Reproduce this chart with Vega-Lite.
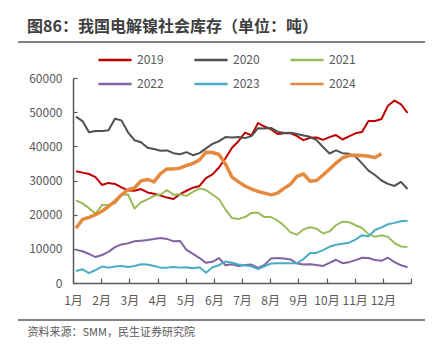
{
  "$schema": "https://vega.github.io/schema/vega-lite/v6.json",
  "autosize": "none",
  "width": 338,
  "height": 205,
  "padding": {"left": 73, "top": 78, "right": 33, "bottom": 76},
  "background": "white",
  "config": {"font": "Noto Sans CJK SC", "view": {"stroke": null}, "axis": {"labelOverlap": false}},
  "title": {"text": "图86：我国电解镍社会库存（单位：吨）", "anchor": "start", "frame": "group", "dx": -46, "fontSize": 16, "fontWeight": "bold", "color": "#404040", "offset": 6},
  "resolve": {"scale": {"x": "independent", "y": "independent"}, "axis": {"x": "independent", "y": "independent"}},
  "data": {"values": [
    {"w":0,"2019":32700,"2020":48700,"2021":24200,"2022":9700,"2023":3500,"2024":16000},
    {"w":1,"2019":32300,"2020":47400,"2021":23300,"2022":9300,"2023":4000,"2024":18600},
    {"w":2,"2019":31900,"2020":44100,"2021":21900,"2022":8500,"2023":2900,"2024":19200},
    {"w":3,"2019":31000,"2020":44500,"2021":20300,"2022":7600,"2023":3800,"2024":20000},
    {"w":4,"2019":28700,"2020":44500,"2021":22800,"2022":8200,"2023":4800,"2024":21000},
    {"w":5,"2019":29300,"2020":44700,"2021":22900,"2022":9100,"2023":4500,"2024":22400},
    {"w":6,"2019":29000,"2020":48100,"2021":23300,"2022":10500,"2023":4800,"2024":23900},
    {"w":7,"2019":28000,"2020":47600,"2021":25800,"2022":11300,"2023":5000,"2024":25800},
    {"w":8,"2019":27100,"2020":44100,"2021":25900,"2022":11600,"2023":4700,"2024":27300},
    {"w":9,"2019":27000,"2020":41800,"2021":21800,"2022":12200,"2023":5000,"2024":27800},
    {"w":10,"2019":27500,"2020":41200,"2021":23600,"2022":12400,"2023":5500,"2024":29900},
    {"w":11,"2019":26500,"2020":39600,"2021":24500,"2022":12600,"2023":5400,"2024":30300},
    {"w":12,"2019":26100,"2020":39200,"2021":25500,"2022":12900,"2023":5000,"2024":29600},
    {"w":13,"2019":25600,"2020":38700,"2021":25900,"2022":13200,"2023":4500,"2024":32000},
    {"w":14,"2019":25000,"2020":38800,"2021":27200,"2022":12900,"2023":4500,"2024":33400},
    {"w":15,"2019":24600,"2020":38000,"2021":25800,"2022":12200,"2023":4700,"2024":33400},
    {"w":16,"2019":26000,"2020":37700,"2021":26000,"2022":12300,"2023":4500,"2024":33600},
    {"w":17,"2019":27000,"2020":38300,"2021":25500,"2022":9700,"2023":4600,"2024":34400},
    {"w":18,"2019":27900,"2020":37400,"2021":26700,"2022":8500,"2023":4300,"2024":35000},
    {"w":19,"2019":28400,"2020":38000,"2021":27700,"2022":7300,"2023":4600,"2024":36000},
    {"w":20,"2019":30700,"2020":39400,"2021":27200,"2022":5900,"2023":3000,"2024":38300},
    {"w":21,"2019":31800,"2020":40700,"2021":25900,"2022":6200,"2023":4600,"2024":38200},
    {"w":22,"2019":33800,"2020":41500,"2021":24500,"2022":7300,"2023":5200,"2024":37600},
    {"w":23,"2019":36500,"2020":42700,"2021":21500,"2022":5200,"2023":6300,"2024":34800},
    {"w":24,"2019":39600,"2020":42600,"2021":19000,"2022":5500,"2023":5900,"2024":31000},
    {"w":25,"2019":41500,"2020":42700,"2021":18700,"2022":5000,"2023":5400,"2024":29600},
    {"w":26,"2019":44000,"2020":42400,"2021":19300,"2022":5300,"2023":5100,"2024":28400},
    {"w":27,"2019":43200,"2020":43000,"2021":20500,"2022":5400,"2023":4900,"2024":27500},
    {"w":28,"2019":46800,"2020":45300,"2021":20600,"2022":4400,"2023":4100,"2024":26800},
    {"w":29,"2019":45800,"2020":45200,"2021":19300,"2022":5300,"2023":4900,"2024":26300},
    {"w":30,"2019":45000,"2020":45400,"2021":19300,"2022":7200,"2023":5700,"2024":25800},
    {"w":31,"2019":43600,"2020":44300,"2021":18300,"2022":7300,"2023":5800,"2024":26300},
    {"w":32,"2019":43800,"2020":43900,"2021":16800,"2022":7200,"2023":5800,"2024":27700},
    {"w":33,"2019":43900,"2020":44000,"2021":14800,"2022":6900,"2023":5800,"2024":28900},
    {"w":34,"2019":43000,"2020":43600,"2021":14100,"2022":5700,"2023":5800,"2024":31200},
    {"w":35,"2019":41800,"2020":43200,"2021":15700,"2022":5400,"2023":7000,"2024":31900},
    {"w":36,"2019":42500,"2020":42800,"2021":16300,"2022":5500,"2023":8800,"2024":29800},
    {"w":37,"2019":42600,"2020":41800,"2021":15900,"2022":5300,"2023":8800,"2024":30000},
    {"w":38,"2019":41900,"2020":39800,"2021":14500,"2022":5000,"2023":9600,"2024":31600},
    {"w":39,"2019":42700,"2020":37900,"2021":15100,"2022":5900,"2023":10600,"2024":33300},
    {"w":40,"2019":43300,"2020":38800,"2021":16900,"2022":6800,"2023":11200,"2024":35100},
    {"w":41,"2019":42000,"2020":38000,"2021":18000,"2022":5800,"2023":11500,"2024":36600},
    {"w":42,"2019":42900,"2020":37800,"2021":17800,"2022":6100,"2023":11800,"2024":37300},
    {"w":43,"2019":43800,"2020":37000,"2021":16900,"2022":6700,"2023":12700,"2024":37400},
    {"w":44,"2019":44200,"2020":35000,"2021":16100,"2022":7400,"2023":14000,"2024":37300},
    {"w":45,"2019":47400,"2020":32900,"2021":14300,"2022":7300,"2023":13700,"2024":37100},
    {"w":46,"2019":47400,"2020":31600,"2021":13500,"2022":6700,"2023":15500,"2024":36700},
    {"w":47,"2019":48000,"2020":30000,"2021":14000,"2022":6500,"2023":16300,"2024":37800},
    {"w":48,"2019":51900,"2020":29000,"2021":13500,"2022":7400,"2023":17200},
    {"w":49,"2019":53400,"2020":28400,"2021":11700,"2022":6100,"2023":17600},
    {"w":50,"2019":52300,"2020":29600,"2021":10700,"2022":5200,"2023":18100},
    {"w":51,"2019":49800,"2020":27500,"2021":10500,"2022":4600,"2023":18200}
  ]},
  "transform": [{"fold": ["2019", "2020", "2021", "2022", "2023", "2024"], "as": ["year", "value"]}],
  "layer": [
    {
      "mark": {"type": "line", "strokeJoin": "round"},
      "encoding": {
        "x": {"field": "w", "type": "quantitative",
          "scale": {"domain": [-0.46, 51.54], "nice": false, "zero": false},
          "axis": {"values": [-0.46, 3.873, 8.207, 12.54, 16.873, 21.207, 25.54, 29.873, 34.207, 38.54, 42.873, 47.207, 51.54],
            "labelExpr": "datum.value > 51 ? '' : (round((datum.value + 0.46) / 4.3333) + 1) + '月'",
            "labelOverlap": false, "labelFlush": false,
            "grid": false, "tickSize": -5, "labelPadding": 17, "labelFontSize": 12, "labelColor": "#595959",
            "domainColor": "#595959", "domainWidth": 1.5, "tickColor": "#595959", "tickWidth": 1.2,
            "title": "资料来源：SMM，民生证券研究院", "titleX": -46, "titleY": 49, "titleAlign": "left", "titleBaseline": "middle",
            "titleFontSize": 11, "titleFontWeight": "normal", "titleColor": "#595959"}},
        "y": {"field": "value", "type": "quantitative",
          "scale": {"domain": [0, 60000], "nice": false},
          "axis": {"values": [0, 10000, 20000, 30000, 40000, 50000, 60000], "format": "d", "grid": false,
            "labelOverlap": false, "labelFlush": false,
            "tickSize": -4, "labelPadding": 15, "labelFontSize": 12, "labelColor": "#595959",
            "domainColor": "#595959", "domainWidth": 1.5, "tickColor": "#595959", "tickWidth": 1.2, "title": null}},
        "color": {"field": "year", "type": "nominal",
          "scale": {"domain": ["2019", "2020", "2021", "2022", "2023", "2024"], "range": ["#C00000", "#505050", "#9BBB59", "#8064A2", "#4BACC6", "#E5893F"]},
          "legend": {"orient": "none", "legendX": 24, "legendY": -36, "columns": 3, "direction": "horizontal", "title": null,
            "symbolType": "stroke", "symbolSize": 1100, "symbolStrokeWidth": 2.5, "labelFontSize": 12, "labelColor": "#595959",
            "columnPadding": 25, "rowPadding": 0, "labelOffset": 4}},
        "strokeWidth": {"condition": {"test": "datum.year === '2024'", "value": 3.5}, "value": 2}
      }
    },
    {
      "data": {"values": [{}]},
      "mark": {"type": "rule", "color": "#595959", "strokeWidth": 1.5},
      "encoding": {
        "x": {"datum": -8.92, "type": "quantitative", "scale": {"domain": [-0.46, 51.54], "nice": false, "zero": false}, "axis": null},
        "x2": {"datum": 53.69},
        "y": {"datum": 70537, "type": "quantitative", "scale": {"domain": [0, 60000], "nice": false}, "axis": null}
      }
    },
    {
      "data": {"values": [{}]},
      "mark": {"type": "rule", "color": "#595959", "strokeWidth": 1.5},
      "encoding": {
        "x": {"datum": -8.92, "type": "quantitative", "scale": {"domain": [-0.46, 51.54], "nice": false, "zero": false}, "axis": null},
        "x2": {"datum": 53.69},
        "y": {"datum": -10829, "type": "quantitative", "scale": {"domain": [0, 60000], "nice": false}, "axis": null}
      }
    }
  ]
}
